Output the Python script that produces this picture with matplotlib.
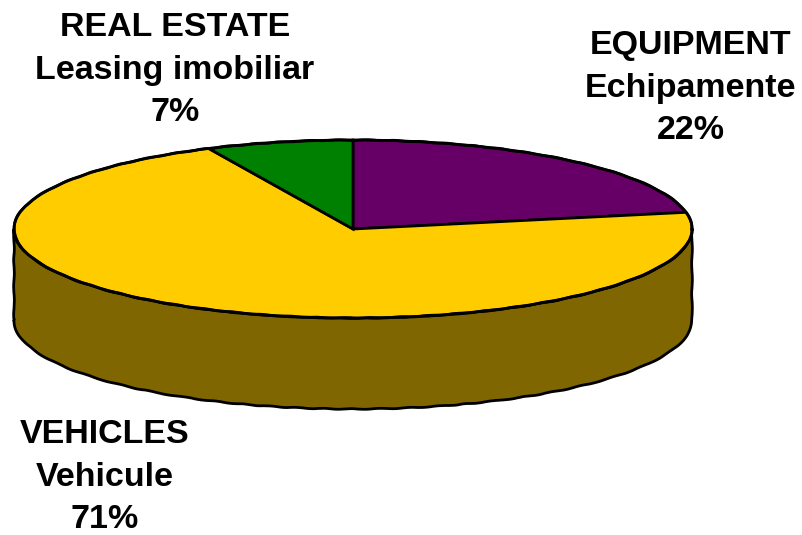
import numpy as np
import matplotlib
matplotlib.use('Agg')
import matplotlib.pyplot as plt

names_en = ['EQUIPMENT', 'VEHICLES', 'REAL ESTATE']
names_ro = ['Echipamente', 'Vehicule', 'Leasing imobiliar']
shares = [22, 71, 7]
colors = ['#660066', '#FFCC00', '#008000']
side_color = '#806600'

W, H = 803, 535
cx, cy = 353, 229   # pie centre in pixels
rx, ry = 339, 89
depth = 91 / ry
lw = 2.0
wobble = (0.35, 30, 2)   # the original outline is not a clean curve

plt.rcParams['font.family'] = ['Liberation Sans', 'DejaVu Sans']

fig = plt.figure(figsize=(W / 100, H / 100), dpi=100)
ax = fig.add_axes([0, 0, 1, 1])

# side of the disc, only the front half shows
t = np.linspace(np.pi, 2 * np.pi, 200)
xs = np.r_[np.cos(t), np.cos(t[::-1])]
ys = np.r_[np.sin(t) - depth, np.sin(t[::-1])]
side = ax.fill(xs, ys, facecolor=side_color, edgecolor='black', lw=lw, zorder=1)[0]
side.set_sketch_params(*wobble)

ax.pie(shares, colors=colors, startangle=90, counterclock=False, radius=1,
       wedgeprops={'edgecolor': 'black', 'linewidth': lw, 'zorder': 2})

# rim on top of the wedges, radial edges stay straight
t = np.linspace(0, 2 * np.pi, 400)
rim = ax.plot(np.cos(t), np.sin(t), color='black', lw=lw, zorder=3)[0]
rim.set_sketch_params(*wobble)

# pie forces equal aspect, squash it to an ellipse afterwards
ax.set_aspect('auto')
ax.set_xlim(-cx / rx, (W - cx) / rx)
ax.set_ylim((cy - H) / ry, cy / ry)
ax.axis('off')

label_pos = [(691, 88), (105, 477), (175, 70)]
for en, ro, s, (px, py) in zip(names_en, names_ro, shares, label_pos):
    fig.text(px / W, 1 - py / H, '{}\n{}\n{}%'.format(en, ro, s),
             ha='center', va='center', fontsize=24.5, fontweight='bold',
             color='black', linespacing=1.46)

fig.savefig('out.png', dpi=100)
